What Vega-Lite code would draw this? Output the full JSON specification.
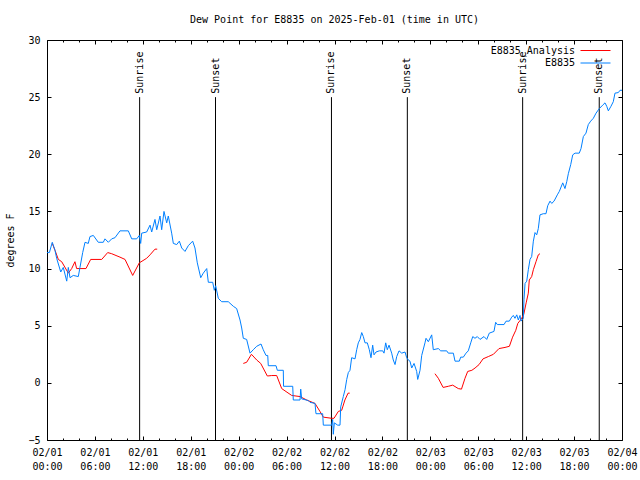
{
  "$schema": "https://vega.github.io/schema/vega-lite/v6.json",
  "width": 575,
  "height": 400,
  "autosize": "none",
  "padding": {"left": 47, "top": 40, "right": 18, "bottom": 40},
  "background": "white",
  "config": {
    "font": "DejaVu Sans Mono",
    "view": {"stroke": "black", "strokeWidth": 1},
    "axis": {"grid": false, "domain": false, "ticks": true, "tickWidth": 1, "tickColor": "black", "tickOpacity": 1, "zindex": 1, "labelColor": "black", "labelFont": "DejaVu Sans Mono", "labelFontSize": 10, "labelFlush": false, "labelOverlap": false, "titleFont": "DejaVu Sans Mono", "titleFontSize": 10, "titleFontWeight": "normal", "titleColor": "black"}
  },
  "title": {"text": "Dew Point for E8835 on 2025-Feb-01 (time in UTC)", "font": "DejaVu Sans Mono", "fontSize": 10, "fontWeight": "normal", "color": "black", "anchor": "middle", "offset": 10},
  "datasets": {
    "sun": [
      {"hour": 11.6, "event": "Sunrise"},
      {"hour": 21.1, "event": "Sunset"},
      {"hour": 35.62, "event": "Sunrise"},
      {"hour": 45.12, "event": "Sunset"},
      {"hour": 59.56, "event": "Sunrise"},
      {"hour": 69.15, "event": "Sunset"}
    ],
    "analysis": [
      {"seg": 1, "hour": 0.66, "dp": 12.2}, {"seg": 1, "hour": 1.0, "dp": 11.6}, {"seg": 1, "hour": 1.42, "dp": 10.8}, {"seg": 1, "hour": 1.84, "dp": 10.6},
      {"seg": 1, "hour": 2.67, "dp": 9.6}, {"seg": 1, "hour": 3.09, "dp": 10.0}, {"seg": 1, "hour": 3.5, "dp": 10.6}, {"seg": 1, "hour": 3.71, "dp": 10.0},
      {"seg": 1, "hour": 4.88, "dp": 10.0}, {"seg": 1, "hour": 5.47, "dp": 10.8}, {"seg": 1, "hour": 6.85, "dp": 10.8}, {"seg": 1, "hour": 7.6, "dp": 11.4},
      {"seg": 1, "hour": 8.1, "dp": 11.3}, {"seg": 1, "hour": 9.14, "dp": 11.0}, {"seg": 1, "hour": 9.77, "dp": 10.8}, {"seg": 1, "hour": 10.73, "dp": 9.4},
      {"seg": 1, "hour": 11.56, "dp": 10.5}, {"seg": 1, "hour": 12.48, "dp": 10.9}, {"seg": 1, "hour": 12.9, "dp": 11.2}, {"seg": 1, "hour": 13.52, "dp": 11.7},
      {"seg": 1, "hour": 13.8, "dp": 11.7},
      {"seg": 2, "hour": 24.58, "dp": 1.7}, {"seg": 2, "hour": 25.0, "dp": 1.8}, {"seg": 2, "hour": 25.6, "dp": 2.5}, {"seg": 2, "hour": 26.26, "dp": 2.0},
      {"seg": 2, "hour": 26.76, "dp": 1.7}, {"seg": 2, "hour": 27.59, "dp": 0.6}, {"seg": 2, "hour": 28.14, "dp": 0.64}, {"seg": 2, "hour": 28.76, "dp": 0.64},
      {"seg": 2, "hour": 29.39, "dp": -0.5}, {"seg": 2, "hour": 29.8, "dp": -0.7}, {"seg": 2, "hour": 30.64, "dp": -1.1}, {"seg": 2, "hour": 31.68, "dp": -1.2},
      {"seg": 2, "hour": 32.52, "dp": -1.5}, {"seg": 2, "hour": 33.56, "dp": -1.8}, {"seg": 2, "hour": 34.18, "dp": -2.5}, {"seg": 2, "hour": 34.6, "dp": -3.0},
      {"seg": 2, "hour": 35.65, "dp": -3.1}, {"seg": 2, "hour": 35.94, "dp": -3.1}, {"seg": 2, "hour": 36.48, "dp": -2.5}, {"seg": 2, "hour": 36.9, "dp": -2.4},
      {"seg": 2, "hour": 37.3, "dp": -1.5}, {"seg": 2, "hour": 37.7, "dp": -0.9}, {"seg": 2, "hour": 37.9, "dp": -0.9},
      {"seg": 3, "hour": 48.58, "dp": 0.8}, {"seg": 3, "hour": 49.0, "dp": 0.4}, {"seg": 3, "hour": 49.6, "dp": -0.4}, {"seg": 3, "hour": 50.25, "dp": -0.3},
      {"seg": 3, "hour": 50.8, "dp": -0.2}, {"seg": 3, "hour": 51.5, "dp": -0.5}, {"seg": 3, "hour": 51.9, "dp": -0.55}, {"seg": 3, "hour": 52.34, "dp": 0.4},
      {"seg": 3, "hour": 52.68, "dp": 1.0}, {"seg": 3, "hour": 53.2, "dp": 1.1}, {"seg": 3, "hour": 53.6, "dp": 1.3}, {"seg": 3, "hour": 54.1, "dp": 1.6},
      {"seg": 3, "hour": 54.6, "dp": 2.1}, {"seg": 3, "hour": 55.26, "dp": 2.3}, {"seg": 3, "hour": 55.9, "dp": 2.5}, {"seg": 3, "hour": 56.6, "dp": 3.0},
      {"seg": 3, "hour": 57.35, "dp": 3.1}, {"seg": 3, "hour": 57.9, "dp": 3.2}, {"seg": 3, "hour": 58.3, "dp": 4.0}, {"seg": 3, "hour": 58.7, "dp": 4.6},
      {"seg": 3, "hour": 58.95, "dp": 5.2}, {"seg": 3, "hour": 59.4, "dp": 5.6}, {"seg": 3, "hour": 59.7, "dp": 6.0}, {"seg": 3, "hour": 60.0, "dp": 7.0},
      {"seg": 3, "hour": 60.27, "dp": 7.85}, {"seg": 3, "hour": 60.39, "dp": 9.0}, {"seg": 3, "hour": 60.69, "dp": 9.3}, {"seg": 3, "hour": 60.9, "dp": 9.9},
      {"seg": 3, "hour": 61.23, "dp": 10.6}, {"seg": 3, "hour": 61.52, "dp": 11.2}, {"seg": 3, "hour": 61.73, "dp": 11.3}
    ],
    "obs": [
      {"hour": 0.0, "dp": 11.4}, {"hour": 0.3, "dp": 11.4}, {"hour": 0.66, "dp": 12.3}, {"hour": 1.0, "dp": 11.6}, {"hour": 1.21, "dp": 10.9},
      {"hour": 1.72, "dp": 9.7}, {"hour": 2.04, "dp": 10.1}, {"hour": 2.47, "dp": 8.9}, {"hour": 2.67, "dp": 10.1}, {"hour": 2.88, "dp": 9.2},
      {"hour": 3.29, "dp": 9.4}, {"hour": 3.92, "dp": 9.3}, {"hour": 4.13, "dp": 10.1}, {"hour": 4.47, "dp": 11.4}, {"hour": 4.76, "dp": 12.3},
      {"hour": 5.17, "dp": 12.2}, {"hour": 5.38, "dp": 12.8}, {"hour": 5.8, "dp": 12.9}, {"hour": 6.42, "dp": 12.3}, {"hour": 7.05, "dp": 12.3},
      {"hour": 7.26, "dp": 12.6}, {"hour": 7.68, "dp": 12.3}, {"hour": 8.1, "dp": 12.6}, {"hour": 8.51, "dp": 12.7}, {"hour": 9.14, "dp": 13.3},
      {"hour": 10.18, "dp": 13.3}, {"hour": 10.61, "dp": 12.6}, {"hour": 11.23, "dp": 12.6}, {"hour": 11.56, "dp": 12.9}, {"hour": 11.73, "dp": 12.2},
      {"hour": 11.86, "dp": 13.1}, {"hour": 12.48, "dp": 13.2}, {"hour": 12.9, "dp": 13.8}, {"hour": 13.11, "dp": 13.2}, {"hour": 13.52, "dp": 14.3},
      {"hour": 13.74, "dp": 13.4}, {"hour": 14.15, "dp": 14.6}, {"hour": 14.36, "dp": 13.4}, {"hour": 14.65, "dp": 15.0}, {"hour": 14.99, "dp": 14.0},
      {"hour": 15.19, "dp": 14.6}, {"hour": 15.61, "dp": 13.1}, {"hour": 15.82, "dp": 12.2}, {"hour": 16.24, "dp": 12.1}, {"hour": 16.57, "dp": 12.4},
      {"hour": 16.87, "dp": 11.8}, {"hour": 17.28, "dp": 11.5}, {"hour": 17.69, "dp": 12.0}, {"hour": 18.24, "dp": 12.4}, {"hour": 18.53, "dp": 11.8},
      {"hour": 18.82, "dp": 10.5}, {"hour": 19.25, "dp": 9.2}, {"hour": 19.57, "dp": 9.6}, {"hour": 20.0, "dp": 10.0}, {"hour": 20.2, "dp": 8.8},
      {"hour": 20.75, "dp": 8.8}, {"hour": 20.95, "dp": 8.1}, {"hour": 21.12, "dp": 8.5}, {"hour": 21.45, "dp": 7.4}, {"hour": 21.87, "dp": 7.1},
      {"hour": 22.7, "dp": 7.1}, {"hour": 23.33, "dp": 6.7}, {"hour": 23.75, "dp": 6.5}, {"hour": 24.17, "dp": 5.5}, {"hour": 24.38, "dp": 4.8},
      {"hour": 24.58, "dp": 3.9}, {"hour": 25.0, "dp": 3.8}, {"hour": 25.42, "dp": 2.6}, {"hour": 25.83, "dp": 2.9}, {"hour": 26.26, "dp": 3.2},
      {"hour": 26.8, "dp": 3.4}, {"hour": 27.08, "dp": 2.9}, {"hour": 27.42, "dp": 2.4}, {"hour": 27.64, "dp": 2.4}, {"hour": 27.71, "dp": 1.5},
      {"hour": 28.68, "dp": 1.5}, {"hour": 28.84, "dp": 1.1}, {"hour": 29.59, "dp": 1.1}, {"hour": 29.62, "dp": -0.3}, {"hour": 30.77, "dp": -0.3},
      {"hour": 30.84, "dp": -1.5}, {"hour": 31.68, "dp": -1.5}, {"hour": 31.77, "dp": -0.55}, {"hour": 31.89, "dp": -1.4}, {"hour": 32.72, "dp": -1.55},
      {"hour": 32.93, "dp": -1.7}, {"hour": 33.56, "dp": -1.8}, {"hour": 33.68, "dp": -2.7}, {"hour": 34.52, "dp": -2.7}, {"hour": 34.6, "dp": -3.7},
      {"hour": 35.65, "dp": -3.7}, {"hour": 35.77, "dp": -3.2}, {"hour": 35.85, "dp": -4.5}, {"hour": 35.98, "dp": -3.5}, {"hour": 36.4, "dp": -3.7},
      {"hour": 36.69, "dp": -3.7}, {"hour": 36.78, "dp": -2.1}, {"hour": 37.1, "dp": -1.2}, {"hour": 37.32, "dp": -0.6}, {"hour": 37.53, "dp": 0.3},
      {"hour": 37.73, "dp": 0.9}, {"hour": 37.94, "dp": 1.1}, {"hour": 38.15, "dp": 2.2}, {"hour": 38.57, "dp": 2.1}, {"hour": 38.78, "dp": 2.9},
      {"hour": 38.98, "dp": 3.5}, {"hour": 39.19, "dp": 3.8}, {"hour": 39.41, "dp": 4.4}, {"hour": 39.61, "dp": 4.05}, {"hour": 39.82, "dp": 3.5},
      {"hour": 40.11, "dp": 3.5}, {"hour": 40.36, "dp": 2.9}, {"hour": 40.57, "dp": 2.2}, {"hour": 40.78, "dp": 3.3}, {"hour": 40.95, "dp": 2.45},
      {"hour": 41.2, "dp": 2.7}, {"hour": 41.61, "dp": 2.8}, {"hour": 42.04, "dp": 2.8}, {"hour": 42.2, "dp": 2.6}, {"hour": 42.41, "dp": 3.5},
      {"hour": 42.61, "dp": 2.9}, {"hour": 42.83, "dp": 3.3}, {"hour": 43.16, "dp": 2.6}, {"hour": 43.36, "dp": 2.0}, {"hour": 43.58, "dp": 1.6},
      {"hour": 43.79, "dp": 2.3}, {"hour": 44.08, "dp": 2.8}, {"hour": 44.42, "dp": 2.6}, {"hour": 44.83, "dp": 2.7}, {"hour": 45.04, "dp": 2.2},
      {"hour": 45.24, "dp": 2.0}, {"hour": 45.45, "dp": 1.9}, {"hour": 45.67, "dp": 1.3}, {"hour": 45.96, "dp": 1.7}, {"hour": 46.29, "dp": 1.0},
      {"hour": 46.42, "dp": 0.3}, {"hour": 46.71, "dp": 1.1}, {"hour": 46.92, "dp": 2.4}, {"hour": 47.33, "dp": 3.5}, {"hour": 47.46, "dp": 3.9},
      {"hour": 47.75, "dp": 3.6}, {"hour": 48.17, "dp": 4.2}, {"hour": 48.37, "dp": 2.9}, {"hour": 49.0, "dp": 3.0}, {"hour": 49.3, "dp": 2.8},
      {"hour": 50.05, "dp": 2.8}, {"hour": 50.25, "dp": 2.6}, {"hour": 50.88, "dp": 2.6}, {"hour": 51.09, "dp": 1.9}, {"hour": 51.63, "dp": 1.9},
      {"hour": 51.8, "dp": 2.25}, {"hour": 52.13, "dp": 2.25}, {"hour": 52.47, "dp": 2.6}, {"hour": 52.75, "dp": 2.8}, {"hour": 53.06, "dp": 3.5},
      {"hour": 53.31, "dp": 4.05}, {"hour": 53.59, "dp": 3.9}, {"hour": 53.88, "dp": 4.05}, {"hour": 54.22, "dp": 3.8}, {"hour": 54.72, "dp": 4.05},
      {"hour": 55.06, "dp": 3.8}, {"hour": 55.38, "dp": 4.35}, {"hour": 55.97, "dp": 4.5}, {"hour": 56.18, "dp": 5.3}, {"hour": 56.39, "dp": 5.1},
      {"hour": 57.23, "dp": 5.1}, {"hour": 57.48, "dp": 5.4}, {"hour": 57.89, "dp": 5.4}, {"hour": 58.19, "dp": 5.75}, {"hour": 58.39, "dp": 5.9},
      {"hour": 58.6, "dp": 5.65}, {"hour": 58.82, "dp": 5.95}, {"hour": 59.02, "dp": 5.5}, {"hour": 59.23, "dp": 5.9}, {"hour": 59.35, "dp": 5.4},
      {"hour": 59.64, "dp": 5.65}, {"hour": 59.73, "dp": 7.3}, {"hour": 59.86, "dp": 8.7}, {"hour": 60.07, "dp": 8.9}, {"hour": 60.27, "dp": 9.9},
      {"hour": 60.48, "dp": 10.8}, {"hour": 60.69, "dp": 11.05}, {"hour": 60.9, "dp": 12.4}, {"hour": 61.11, "dp": 13.15}, {"hour": 61.32, "dp": 12.95},
      {"hour": 61.52, "dp": 13.5}, {"hour": 61.73, "dp": 14.7}, {"hour": 62.15, "dp": 14.8}, {"hour": 62.48, "dp": 14.8}, {"hour": 62.7, "dp": 15.5},
      {"hour": 62.99, "dp": 15.9}, {"hour": 63.2, "dp": 15.7}, {"hour": 63.49, "dp": 15.9}, {"hour": 63.9, "dp": 16.45}, {"hour": 64.15, "dp": 16.75},
      {"hour": 64.58, "dp": 17.5}, {"hour": 64.86, "dp": 17.0}, {"hour": 65.08, "dp": 17.6}, {"hour": 65.28, "dp": 18.3}, {"hour": 65.58, "dp": 19.1},
      {"hour": 65.83, "dp": 19.95}, {"hour": 66.12, "dp": 20.1}, {"hour": 66.65, "dp": 20.1}, {"hour": 66.87, "dp": 20.5}, {"hour": 67.16, "dp": 21.55},
      {"hour": 67.49, "dp": 21.85}, {"hour": 67.78, "dp": 22.6}, {"hour": 68.08, "dp": 22.9}, {"hour": 68.41, "dp": 23.15}, {"hour": 68.75, "dp": 23.6},
      {"hour": 69.16, "dp": 24.0}, {"hour": 69.58, "dp": 24.3}, {"hour": 69.87, "dp": 24.5}, {"hour": 70.09, "dp": 24.2}, {"hour": 70.29, "dp": 23.8},
      {"hour": 70.62, "dp": 24.2}, {"hour": 70.91, "dp": 24.6}, {"hour": 71.12, "dp": 25.35}, {"hour": 71.54, "dp": 25.4}, {"hour": 71.75, "dp": 25.6},
      {"hour": 72.0, "dp": 25.6}
    ]
  },
  "layer": [
    {
      "data": {"name": "sun"},
      "mark": {"type": "rule", "color": "black", "strokeWidth": 1},
      "encoding": {
        "x": {"field": "hour", "type": "quantitative", "scale": {"domain": [0, 72], "nice": false, "zero": false},
              "axis": {"orient": "top", "title": null, "labels": false, "values": [0,2,4,6,8,10,12,14,16,18,20,22,24,26,28,30,32,34,36,38,40,42,44,46,48,50,52,54,56,58,60,62,64,66,68,70,72],
                       "tickSize": {"condition": {"test": "datum.value % 6 === 0", "value": -4}, "value": -2}}},
        "y": {"datum": 25, "type": "quantitative", "scale": {"domain": [-5, 30], "nice": false, "zero": false},
              "axis": {"orient": "right", "title": null, "labels": false, "values": [-5,0,5,10,15,20,25,30], "tickSize": -4}},
        "y2": {"datum": -5}
      }
    },
    {
      "data": {"name": "sun"},
      "mark": {"type": "text", "angle": 270, "align": "left", "baseline": "middle", "font": "DejaVu Sans Mono", "fontSize": 10, "color": "black"},
      "encoding": {
        "x": {"field": "hour", "type": "quantitative", "axis": null},
        "y": {"datum": 25.3, "type": "quantitative", "axis": null},
        "text": {"field": "event"}
      }
    },
    {
      "data": {"name": "analysis"},
      "mark": {"type": "line", "strokeWidth": 1},
      "encoding": {
        "x": {"field": "hour", "type": "quantitative", "axis": null},
        "y": {"field": "dp", "type": "quantitative", "axis": null},
        "detail": {"field": "seg"},
        "color": {"datum": "E8835_Analysis", "type": "nominal",
                  "scale": {"domain": ["E8835_Analysis", "E8835"], "range": ["#ff0000", "#0080ff"]},
                  "legend": {"orient": "none", "legendX": 542, "legendY": 4, "title": null, "padding": 0, "symbolType": "M-2.5,0H2.5", "symbolSize": 144, "symbolStrokeWidth": 1, "rowPadding": 0.5, "labelAlign": "right", "labelOffset": -27, "labelFont": "DejaVu Sans Mono", "labelFontSize": 10, "labelColor": "black",
                             "encode": {"symbols": {"update": {"stroke": {"scale": "color", "field": "value"}, "strokeWidth": {"value": 1}, "fill": {"value": "transparent"}}}}}}
      }
    },
    {
      "data": {"name": "obs"},
      "mark": {"type": "line", "strokeWidth": 1},
      "encoding": {
        "x": {"field": "hour", "type": "quantitative",
              "axis": {"orient": "bottom", "title": null, "values": [0,2,4,6,8,10,12,14,16,18,20,22,24,26,28,30,32,34,36,38,40,42,44,46,48,50,52,54,56,58,60,62,64,66,68,70,72],
                       "tickSize": {"condition": {"test": "datum.value % 6 === 0", "value": -4}, "value": -2},
                       "labelPadding": 11, "labelLineHeight": 14, "labelBaseline": "top",
                       "labelExpr": "datum.value % 6 === 0 ? ['02/0' + (1 + floor(datum.value / 24)), (datum.value % 24 < 10 ? '0' : '') + (datum.value % 24) + ':00'] : ''"}},
        "y": {"field": "dp", "type": "quantitative",
              "axis": {"orient": "left", "title": "degrees F", "values": [-5,0,5,10,15,20,25,30], "tickSize": -4, "labelPadding": 11, "titlePadding": 12}},
        "color": {"datum": "E8835", "type": "nominal"}
      }
    }
  ],
  "resolve": {"axis": {"x": "independent", "y": "independent"}}
}
